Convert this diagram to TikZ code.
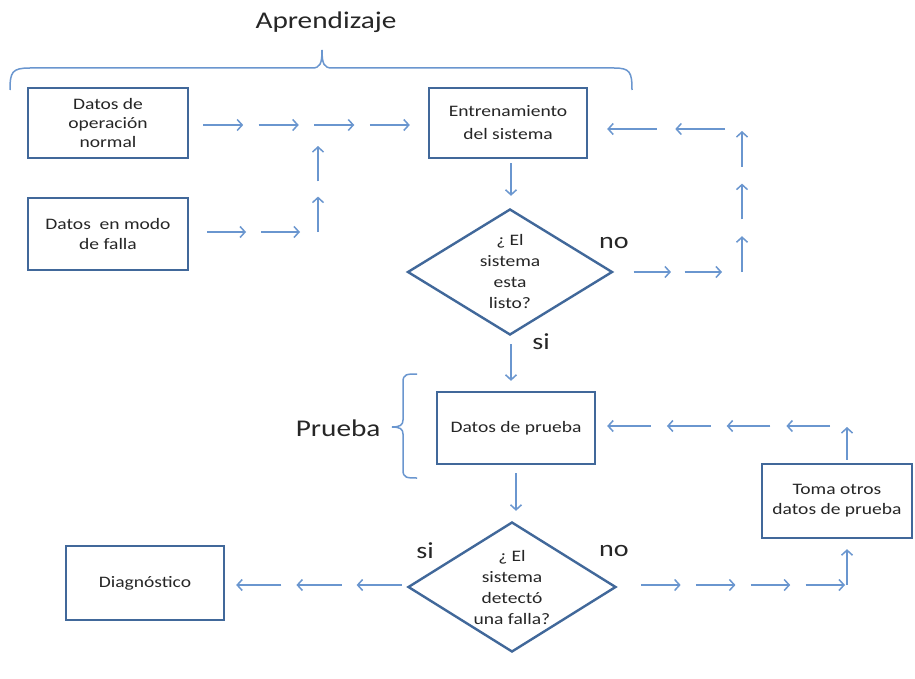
\documentclass[tikz,border=0pt]{standalone}
\usepackage{fontspec}
\setmainfont{Carlito}[FakeStretch=1.22]
\usetikzlibrary{shapes.geometric,arrows.meta,calc}
\definecolor{boxblue}{HTML}{41689A}
\definecolor{arrblue}{HTML}{6A96CF}
\definecolor{txt}{HTML}{262626}
\newcommand{\segs}[4]{%
  \pgfmathsetmacro{\segP}{1/(#3-1+#4)}%
  \foreach \i in {1,...,#3}{%
    \pgfmathsetmacro{\sa}{(\i-1)*\segP}%
    \pgfmathsetmacro{\sb}{(\i-1+#4)*\segP}%
    \draw[seg] ($(#1)!\sa!(#2)$) -- ($(#1)!\sb!(#2)$);
  }}
\begin{document}
\begin{tikzpicture}[x=1pt,y=-1pt,
  box/.style={draw=boxblue,line width=2.4pt,fill=white,align=center,text=txt,
    font=\fontsize{16}{20}\selectfont,inner sep=2pt},
  dia/.style={diamond,draw=boxblue,line width=2.4pt,fill=white,inner sep=0pt,aspect=1.6},
  diatext/.style={align=center,text=txt,font=\fontsize{16}{21}\selectfont},
  seg/.style={draw=arrblue,line width=1.5pt,-{Straight Barb[length=5pt,width=11pt]}},
  brc/.style={draw=arrblue,line width=1.5pt},
  big/.style={text=txt,font=\fontsize{24}{28}\selectfont},
  lab/.style={text=txt,font=\fontsize{23}{26}\selectfont}]
\fill[white] (0,0) rectangle (915,679);
\useasboundingbox (0,0) rectangle (915,679);
% title and brace
\node[big] (apr) at (326,22) {Aprendizaje};
\draw[brc] (10,90) .. controls (10,72) and (12,68) .. (30,68) -- (312,68)
  .. controls (320,68) and (322,64) .. (322,50)
  .. controls (322,64) and (324,68) .. (332,68) -- (614,68)
  .. controls (630,68) and (632,72) .. (632,90);
% nodes
\node[box,minimum width=160,minimum height=70] (b1) at (108,123) {Datos de\\[-1pt]operación\\[-1pt]normal};
\node[box,minimum width=160,minimum height=72] (b2) at (108,234) {Datos\ \ en modo\\de falla};
\node[box,minimum width=158,minimum height=70] (b3) at (508,123) {Entrenamiento\\[3pt]del sistema};
\node[dia,minimum width=205,minimum height=126,
  label={[diatext]center:{¿ El\\sistema\\esta\\listo?}}] (d1) at (510,272) {};
\node[box,minimum width=158,minimum height=72] (b4) at (516,428) {Datos de prueba};
\node[dia,minimum width=208,minimum height=130,
  label={[diatext]center:{¿ El\\sistema\\detectó\\una falla?}}] (d2) at (512,587) {};
\node[box,minimum width=158,minimum height=74] (b5) at (145,583) {Diagnóstico};
\node[box,minimum width=150,minimum height=74] (b6) at (837,501) {Toma otros\\datos de prueba};
% labels
\node[lab] (no1) at (614,243) {no};
\node[lab] (si1) at (541,342) {si};
\node[lab] (si2) at (425,551) {si};
\node[lab] (no2) at (614,551) {no};
% Prueba brace
\node[big,anchor=east] (pru) at (384,428) {Prueba};
\draw[brc] (417,374) .. controls (407,374) and (403,374) .. (403,382) -- (403,420)
  .. controls (403,425) and (400,427) .. (392,427)
  .. controls (400,427) and (403,429) .. (403,434) -- (403,470)
  .. controls (403,478) and (407,478) .. (417,478);
% top row arrows
\coordinate (t1) at ($(b1.east)+(14,2)$);
\coordinate (t2) at ($(b3.west)+(-18,2)$);
\segs{t1}{t2}{4}{0.72}
% box2 row and vertical
\coordinate (v1) at (318,232);
\coordinate (v2) at (318,146);
\coordinate (h1) at ($(b2.east)+(18,-2)$);
\coordinate (h2) at ($(v1)+(-18,0)$);
\segs{h1}{h2}{2}{0.72}
\segs{v1}{v2}{2}{0.7}
% box3 to diamond1
\draw[seg] ($(b3.south)+(3,4)$) -- ($(d1.north)+(1,-12)$);
% diamond1 to b4
\draw[seg] ($(d1.south)+(1,8)$) -- ($(b4.north -| d1.south)+(1,-10)$);
% loop back
\coordinate (c1) at (742,272);
\coordinate (c2) at (742,129);
\coordinate (l1) at ($(d1.east)+(20,0)$);
\coordinate (l2) at ($(c1)+(-20,0)$);
\segs{l1}{l2}{2}{0.73}
\coordinate (u2) at ($(c2)+(0,2)$);
\segs{c1}{u2}{3}{0.68}
\coordinate (k1) at ($(c2)+(-17,0)$);
\coordinate (k2) at ($(b3.east |- c2)+(19,0)$);
\segs{k1}{k2}{2}{0.73}
% b4 to d2
\draw[seg] ($(b4.south)+(0,8)$) -- ($(d2.north -| b4.south)+(0,-10)$);
% si -> diagnostico
\coordinate (s1) at ($(d2.west)+(-5,-2)$);
\coordinate (s2) at ($(b5.east |- s1)+(11,0)$);
\segs{s1}{s2}{3}{0.75}
% no -> toma
\coordinate (c3) at (847,585);
\coordinate (r1) at ($(d2.east)+(24,-2)$);
\coordinate (r2) at ($(c3)+(-2,0)$);
\segs{r1}{r2}{4}{0.72}
\draw[seg] (c3) -- ($(b6.south -| c3)+(0,10)$);
% toma -> datos de prueba
\coordinate (c4) at (847,426);
\draw[seg] ($(b6.north -| c4)+(0,-3)$) -- ($(c4)+(0,1)$);
\coordinate (q1) at ($(c4)+(-17,0)$);
\coordinate (q2) at ($(b4.east |- c4)+(11,0)$);
\segs{q1}{q2}{4}{0.73}
\end{tikzpicture}
\end{document}
